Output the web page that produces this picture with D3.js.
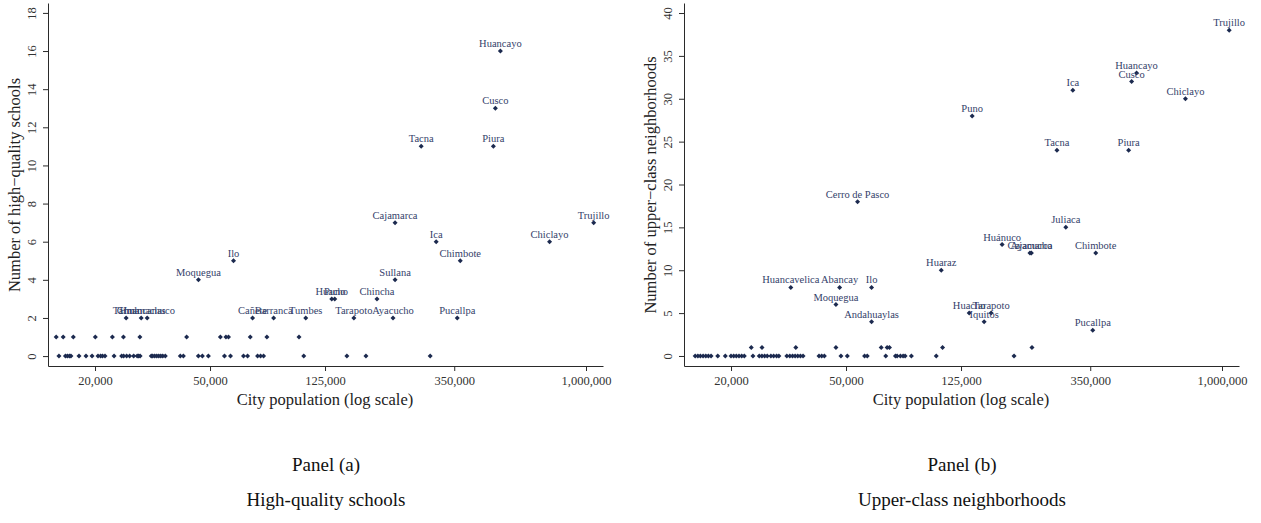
<!DOCTYPE html>
<html>
<head>
<meta charset="utf-8">
<script src="https://cdn.jsdelivr.net/npm/d3@7"></script>
<style>
  body { margin: 0; background: #fff; }
  svg { font-family: "Liberation Serif", "DejaVu Serif", serif; }
</style>
</head>
<body>
<div id="chart"></div>
<script>
// x ticks shared by both panels
const xTicks = [20000, 50000, 125000, 350000, 1000000];

// panel (a): high-quality schools
const aZeroPop = [15000, 15800, 16050, 16310, 16510, 17600, 18610, 19530, 20480, 20900, 21230, 21660,
  23280, 24720, 25120, 25730, 26350, 27210, 27980, 28310, 28650, 31300, 31670, 32180, 32700, 33230,
  33770, 34310, 35010, 39460, 40430, 45560, 47040, 49360, 56100, 58870, 65300, 67430, 73040, 74810,
  76620, 105500, 148800, 173200, 288900];
const aOnePop = [14680, 15520, 16820, 20050, 22970, 25080, 28590, 41500, 54300, 56770, 57920, 68900,
  78670, 101600];
const aLabels = ["Tarma", "Chulucanas", "Huamachuco", "Cañete", "Barranca", "Tumbes", "Tarapoto",
  "Ayacucho", "Pucallpa", "Huacho", "Puno", "Chincha", "Moquegua", "Sullana", "Ilo", "Chimbote",
  "Ica", "Chiclayo", "Cajamarca", "Trujillo", "Tacna", "Piura", "Cusco", "Huancayo"];
const aLabelPop = [25630, 28890, 30310, 70180, 83000, 107200, 157300, 214900, 358500, 131900, 135100,
  189100, 45600, 218400, 60300, 367200, 303100, 748000, 218400, 1063000, 268900, 478000, 485800, 505600];
const aLabelVal = [2, 2, 2, 2, 2, 2, 2, 2, 2, 3, 3, 3, 4, 4, 5, 5, 6, 6, 7, 7, 11, 11, 13, 16];
const aYTicks = [0, 2, 4, 6, 8, 10, 12, 14, 16, 18];

// panel (b): upper-class neighborhoods
const bZeroPop = [15030, 15360, 15670, 16010, 16360, 16700, 17060, 17990, 19110, 20000, 20430, 20860,
  21310, 21770, 22230, 23820, 25040, 25580, 26140, 26690, 27480, 28080, 28750, 29280, 31200, 31950,
  32650, 33330, 34040, 34780, 35500, 40320, 41190, 42080, 48010, 50510, 57970, 59220, 68630, 74130,
  75130, 77120, 78790, 80070, 84180, 102600, 190700];
const bOnePop = [23500, 25600, 33510, 46140, 66180, 69390, 70680, 107900, 220000];
const bLabels = ["Trujillo", "Huancayo", "Cusco", "Ica", "Chiclayo", "Puno", "Tacna", "Piura",
  "Cerro de Pasco", "Juliaca", "Huánuco", "Cajamarca", "Ayacucho", "Chimbote", "Huaraz",
  "Huancavelica", "Abancay", "Ilo", "Moquegua", "Andahuaylas", "Huacho", "Tarapoto", "Iquitos", "Pucallpa"];
const bLabelPop = [1059000, 506300, 486700, 304600, 747200, 136600, 268400, 475300, 54820, 288100,
  173400, 216500, 219000, 365700, 106800, 32210, 47520, 61280, 46140, 61280, 133400, 158900, 150300, 357000];
const bLabelVal = [38, 33, 32, 31, 30, 28, 24, 24, 18, 15, 13, 12, 12, 12, 10, 8, 8, 8, 6, 4, 5, 5, 4, 3];
const bYTicks = [0, 5, 10, 15, 20, 25, 30, 35, 40];

const W = 1261, H = 523;
const markColor = "#1c2a4f", labelColor = "#34416a", axisColor = "#2a2a2a";

const svg = d3.select("#chart").append("svg")
  .attr("width", W).attr("height", H);
svg.append("rect").attr("width", W).attr("height", H).attr("fill", "#fff");

const fmt = d3.format(",");

function panel(opt) {
  const x = d3.scaleLog().domain([13750, 1145000]).range([opt.left, opt.left + 555]);
  const y = d3.scaleLinear().domain(opt.yDomain).range([366, 3]);
  const g = svg.append("g");

  // x axis
  const xa = g.append("g")
    .attr("transform", "translate(0,366)")
    .call(d3.axisBottom(x).tickValues(xTicks).tickFormat(fmt).tickSize(5).tickSizeOuter(0));
  xa.selectAll("text").attr("font-size", 12.5).attr("fill", "#333").attr("y", 8).attr("dy", "0.9em")
    .style("font-family", "Liberation Serif, serif");
  // y axis
  const ya = g.append("g")
    .attr("transform", "translate(" + opt.left + ",0)")
    .call(d3.axisLeft(y).tickValues(opt.yTicks).tickSize(5).tickSizeOuter(0));
  ya.selectAll("text")
    .attr("transform", "rotate(-90)")
    .attr("x", 0).attr("y", -12).attr("dy", 0)
    .attr("text-anchor", "middle")
    .attr("font-size", 12.5).attr("fill", "#333")
    .style("font-family", "Liberation Serif, serif");
  g.selectAll(".domain, .tick line").attr("stroke", axisColor);

  // axis titles
  g.append("text")
    .attr("x", opt.left + 277).attr("y", 405)
    .attr("text-anchor", "middle").attr("font-size", 16.5).attr("fill", "#222")
    .text("City population (log scale)");
  g.append("text")
    .attr("transform", "translate(" + (opt.left - 28) + ",185) rotate(-90)")
    .attr("text-anchor", "middle").attr("font-size", 16.5).attr("fill", "#222")
    .text(opt.yTitle);

  // points
  const pts = opt.zero.map(p => [p, 0])
    .concat(opt.one.map(p => [p, 1]))
    .concat(opt.labPop.map((p, i) => [p, opt.labVal[i]]));
  const sym = d3.symbol().type(d3.symbolDiamond2).size(16);
  g.selectAll("path.pt").data(pts).join("path")
    .attr("class", "pt")
    .attr("d", sym)
    .attr("transform", d => "translate(" + x(d[0]) + "," + y(d[1]) + ")")
    .attr("fill", markColor);

  // labels
  g.selectAll("text.lab").data(opt.labels).join("text")
    .attr("class", "lab")
    .attr("x", (d, i) => x(opt.labPop[i]))
    .attr("y", (d, i) => y(opt.labVal[i]) - 4)
    .attr("text-anchor", "middle")
    .attr("font-size", 10.5)
    .attr("fill", labelColor)
    .text(d => d);

  // captions
  g.append("text")
    .attr("x", opt.left + 278).attr("y", 471)
    .attr("text-anchor", "middle").attr("font-size", 19).attr("fill", "#111")
    .text(opt.panel);
  g.append("text")
    .attr("x", opt.left + 278).attr("y", 506)
    .attr("text-anchor", "middle").attr("font-size", 19).attr("fill", "#111")
    .text(opt.caption);
}

panel({
  left: 48, yDomain: [-0.52, 18.52], yTicks: aYTicks,
  yTitle: "Number of high\u2212quality schools",
  zero: aZeroPop, one: aOnePop, labels: aLabels, labPop: aLabelPop, labVal: aLabelVal,
  panel: "Panel (a)", caption: "High-quality schools"
});
panel({
  left: 684, yDomain: [-1.17, 41.17], yTicks: bYTicks,
  yTitle: "Number of upper\u2212class neighborhoods",
  zero: bZeroPop, one: bOnePop, labels: bLabels, labPop: bLabelPop, labVal: bLabelVal,
  panel: "Panel (b)", caption: "Upper-class neighborhoods"
});
</script>
</body>
</html>
